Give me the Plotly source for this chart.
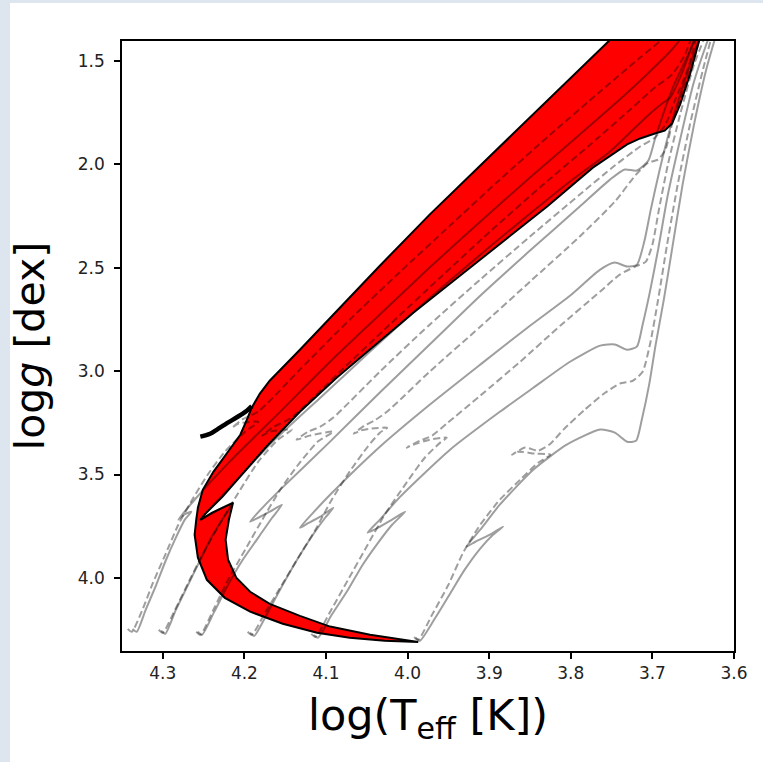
import plotly.graph_objects as go

# ---------------- data (log Teff, log g) ----------------
# red region outline (two isochrone boundaries joined)
red_logt = [3.987, 4.028, 4.071, 4.111, 4.153, 4.193, 4.224, 4.246, 4.257, 4.261, 4.259,
            4.257, 4.251, 4.238, 4.221, 4.205, 4.196, 4.191,
            4.181, 4.169, 4.132, 4.095, 4.034, 3.973, 3.911, 3.829, 3.752, 3.740,
            3.639, 3.643, 3.654, 3.666, 3.676, 3.685, 3.697, 3.715, 3.731, 3.773, 3.829,
            3.911, 3.993, 4.087, 4.132, 4.172, 4.205, 4.227, 4.248, 4.254,
            4.240, 4.226, 4.214,
            4.219, 4.223, 4.220, 4.210, 4.193, 4.169, 4.132, 4.095, 4.046, 3.987]
red_logg = [4.309, 4.304, 4.289, 4.265, 4.221, 4.163, 4.096, 4.009, 3.902, 3.791, 3.718,
            3.661, 3.574, 3.487, 3.395, 3.308, 3.226, 3.177,
            3.109, 3.047, 2.897, 2.742, 2.491, 2.244, 2.007, 1.698, 1.403, 1.354,
            1.354, 1.407, 1.567, 1.712, 1.804, 1.838, 1.852, 1.876, 1.905, 2.017, 2.205,
            2.462, 2.718, 3.032, 3.197, 3.361, 3.506, 3.608, 3.690, 3.719,
            3.685, 3.661, 3.637,
            3.719, 3.815, 3.912, 3.999, 4.067, 4.125, 4.183, 4.235, 4.274, 4.309]

# thick black arc left of the band
arc_logt = [4.254, 4.242, 4.234, 4.224, 4.214, 4.204, 4.197, 4.191]
arc_logg = [3.317, 3.303, 3.284, 3.259, 3.235, 3.211, 3.192, 3.170]

# evolutionary tracks, solid set
t1s_logt = [3.990, 3.985, 3.966, 3.948, 3.930, 3.911, 3.895, 3.883, 3.899, 3.917, 3.928, 3.911, 3.887,
            3.846, 3.805, 3.764, 3.746, 3.731, 3.720, 3.713, 3.704, 3.696, 3.686, 3.675, 3.663,
            3.649, 3.634, 3.620]
t1s_logg = [4.289, 4.304, 4.192, 4.076, 3.960, 3.858, 3.790, 3.752, 3.791, 3.825, 3.849, 3.767, 3.646,
            3.477, 3.356, 3.283, 3.298, 3.342, 3.337, 3.235, 3.066, 2.872, 2.655, 2.389, 2.099,
            1.809, 1.543, 1.349]
t2s_logt = [4.115, 4.110, 4.093, 4.073, 4.055, 4.036, 4.019, 4.003, 4.019, 4.036, 4.049, 4.034, 4.009,
            3.948, 3.887, 3.846, 3.801, 3.764, 3.746, 3.731, 3.719, 3.712, 3.703, 3.693, 3.681,
            3.666, 3.650, 3.634, 3.627]
t2s_logg = [4.275, 4.289, 4.178, 4.057, 3.936, 3.829, 3.743, 3.680, 3.718, 3.757, 3.781, 3.718, 3.607,
            3.380, 3.197, 3.081, 2.955, 2.877, 2.872, 2.897, 2.882, 2.776, 2.616, 2.413, 2.147,
            1.881, 1.615, 1.422, 1.349]
t3s_logt = [4.193, 4.188, 4.171, 4.153, 4.134, 4.116, 4.101, 4.091, 4.107, 4.123, 4.132, 4.117, 4.095,
            4.034, 3.973, 3.911, 3.850, 3.801, 3.764, 3.746, 3.731, 3.719, 3.710, 3.702, 3.691,
            3.677, 3.660, 3.645, 3.636]
t3s_logg = [4.265, 4.280, 4.164, 4.033, 3.902, 3.791, 3.709, 3.661, 3.704, 3.738, 3.757, 3.690, 3.598,
            3.366, 3.163, 2.969, 2.781, 2.636, 2.510, 2.476, 2.495, 2.486, 2.375, 2.220, 2.026,
            1.809, 1.591, 1.422, 1.349]
t4s_logt = [4.257, 4.252, 4.237, 4.220, 4.202, 4.183, 4.166, 4.154, 4.169, 4.183, 4.193, 4.178, 4.156,
            4.095, 4.034, 3.973, 3.911, 3.850, 3.789, 3.752, 3.734, 3.719, 3.705, 3.697, 3.687,
            3.675, 3.658, 3.642]
t4s_logg = [4.260, 4.275, 4.164, 4.033, 3.912, 3.805, 3.709, 3.646, 3.680, 3.709, 3.728, 3.661, 3.573,
            3.341, 3.104, 2.872, 2.636, 2.418, 2.205, 2.075, 2.026, 2.031, 1.983, 1.881, 1.760,
            1.630, 1.485, 1.349]
t5s_logt = [4.302, 4.297, 4.284, 4.269, 4.254, 4.240, 4.225, 4.214, 4.236, 4.254, 4.218, 4.169, 4.107,
            4.046, 3.985, 3.924, 3.862, 3.801, 3.752, 3.721, 3.700, 3.688, 3.678, 3.666, 3.654, 3.645]
t5s_logg = [4.255, 4.270, 4.154, 4.033, 3.912, 3.801, 3.704, 3.637, 3.680, 3.719, 3.564, 3.356, 3.129,
            2.906, 2.689, 2.481, 2.278, 2.084, 1.939, 1.823, 1.746, 1.707, 1.678, 1.581, 1.456, 1.349]
t6s_logt = [4.337, 4.332, 4.321, 4.308, 4.296, 4.284, 4.273, 4.265, 4.274, 4.281, 4.261, 4.218, 4.156,
            4.095, 4.034, 3.973, 3.911, 3.850, 3.789, 3.740, 3.703, 3.676, 3.656]
t6s_logg = [4.246, 4.260, 4.154, 4.033, 3.912, 3.805, 3.718, 3.680, 3.694, 3.718, 3.622, 3.438, 3.196,
            2.955, 2.727, 2.500, 2.278, 2.065, 1.857, 1.688, 1.552, 1.446, 1.349]

# evolutionary tracks, dashed set
t1d_logt = [3.992, 3.987, 3.970, 3.950, 3.932, 3.911, 3.887, 3.862, 3.840, 3.825, 3.844, 3.865, 3.872,
            3.856, 3.840, 3.825, 3.809, 3.783, 3.758, 3.740, 3.724, 3.712, 3.703, 3.693, 3.682,
            3.669, 3.654, 3.638, 3.625]
t1d_logg = [4.285, 4.299, 4.178, 4.033, 3.878, 3.743, 3.622, 3.525, 3.443, 3.404, 3.399, 3.390, 3.404,
            3.370, 3.385, 3.351, 3.283, 3.187, 3.105, 3.061, 3.047, 3.003, 2.872, 2.655, 2.389,
            2.099, 1.809, 1.543, 1.349]
t2d_logt = [4.118, 4.113, 4.095, 4.073, 4.051, 4.028, 4.003, 3.979, 3.960, 3.952, 3.973, 3.993, 4.001,
            3.985, 3.970, 3.952, 3.911, 3.862, 3.813, 3.764, 3.740, 3.721, 3.708, 3.700, 3.692,
            3.681, 3.666, 3.649, 3.632]
t2d_logg = [4.270, 4.285, 4.164, 4.009, 3.854, 3.694, 3.549, 3.419, 3.346, 3.322, 3.332, 3.356, 3.370,
            3.337, 3.312, 3.254, 3.119, 2.955, 2.781, 2.616, 2.534, 2.495, 2.471, 2.389, 2.220,
            2.002, 1.760, 1.519, 1.349]
t3d_logt = [4.196, 4.191, 4.174, 4.154, 4.134, 4.113, 4.093, 4.071, 4.049, 4.034, 4.025, 4.046, 4.058,
            4.066, 4.053, 4.041, 4.025, 3.973, 3.911, 3.850, 3.789, 3.746, 3.721, 3.705, 3.693,
            3.684, 3.676, 3.664, 3.650, 3.639]
t3d_logg = [4.260, 4.275, 4.164, 4.033, 3.902, 3.767, 3.622, 3.486, 3.366, 3.298, 3.274, 3.279, 3.288,
            3.303, 3.264, 3.240, 3.196, 3.003, 2.786, 2.568, 2.350, 2.181, 2.055, 1.993, 1.978,
            1.930, 1.809, 1.664, 1.504, 1.349]
t4d_logt = [4.259, 4.254, 4.238, 4.220, 4.199, 4.178, 4.156, 4.134, 4.110, 4.091, 4.120, 4.136, 4.122,
            4.107, 4.091, 4.034, 3.973, 3.911, 3.850, 3.789, 3.746, 3.715, 3.697, 3.684, 3.672,
            3.656, 3.644]
t4d_logg = [4.260, 4.275, 4.154, 4.009, 3.863, 3.718, 3.573, 3.452, 3.341, 3.293, 3.312, 3.332, 3.293,
            3.269, 3.225, 3.003, 2.776, 2.558, 2.350, 2.147, 2.007, 1.915, 1.872, 1.809, 1.688,
            1.533, 1.349]
t5d_logt = [4.305, 4.300, 4.285, 4.267, 4.248, 4.227, 4.205, 4.183, 4.159, 4.142, 4.169, 4.178, 4.166,
            4.142, 4.083, 4.022, 3.960, 3.899, 3.838, 3.776, 3.727, 3.697, 3.676, 3.660, 3.649]
t5d_logg = [4.250, 4.265, 4.154, 4.009, 3.863, 3.718, 3.573, 3.438, 3.332, 3.283, 3.293, 3.312, 3.274,
            3.225, 3.003, 2.776, 2.548, 2.326, 2.113, 1.905, 1.736, 1.630, 1.567, 1.470, 1.349]
t6d_logt = [4.343, 4.338, 4.325, 4.312, 4.297, 4.281, 4.264, 4.245, 4.224, 4.199, 4.183, 4.208, 4.215,
            4.203, 4.183, 4.132, 4.071, 4.009, 3.948, 3.887, 3.825, 3.764, 3.715, 3.685, 3.672]
t6d_logg = [4.246, 4.260, 4.154, 4.023, 3.888, 3.743, 3.622, 3.501, 3.390, 3.293, 3.245, 3.255, 3.274,
            3.235, 3.196, 2.993, 2.752, 2.520, 2.297, 2.075, 1.857, 1.649, 1.485, 1.388, 1.349]

x_ticks = [4.3, 4.2, 4.1, 4.0, 3.9, 3.8, 3.7, 3.6]
x_labels = ["4.3", "4.2", "4.1", "4.0", "3.9", "3.8", "3.7", "3.6"]
y_ticks = [1.5, 2.0, 2.5, 3.0, 3.5, 4.0]
y_labels = ["1.5", "2.0", "2.5", "3.0", "3.5", "4.0"]

# ---------------- figure ----------------
fig = go.Figure()

fig.add_trace(go.Scatter(x=red_logt, y=red_logg, mode="lines", fill="toself",
                         fillcolor="#ff0000", line=dict(width=0, color="#ff0000"),
                         hoverinfo="skip", showlegend=False))

track_col = "rgba(0,0,0,0.38)"
solid_tracks = [(t1s_logt, t1s_logg), (t2s_logt, t2s_logg), (t3s_logt, t3s_logg),
                (t4s_logt, t4s_logg), (t5s_logt, t5s_logg), (t6s_logt, t6s_logg)]
dashed_tracks = [(t1d_logt, t1d_logg), (t2d_logt, t2d_logg), (t3d_logt, t3d_logg),
                 (t4d_logt, t4d_logg), (t5d_logt, t5d_logg), (t6d_logt, t6d_logg)]
for xs, ys in solid_tracks:
    fig.add_trace(go.Scatter(x=xs, y=ys, mode="lines",
                             line=dict(color=track_col, width=2, shape="spline", smoothing=0.6),
                             hoverinfo="skip", showlegend=False))
for xs, ys in dashed_tracks:
    fig.add_trace(go.Scatter(x=xs, y=ys, mode="lines",
                             line=dict(color=track_col, width=2, dash="7px,3.5px",
                                       shape="spline", smoothing=0.6),
                             hoverinfo="skip", showlegend=False))

fig.add_trace(go.Scatter(x=red_logt, y=red_logg, mode="lines",
                         line=dict(color="black", width=2),
                         hoverinfo="skip", showlegend=False))
fig.add_trace(go.Scatter(x=arc_logt, y=arc_logg, mode="lines",
                         line=dict(color="black", width=4.5, shape="spline"),
                         hoverinfo="skip", showlegend=False))

axis_common = dict(showline=True, linecolor="black", linewidth=1.5, mirror=True,
                   ticks="outside", ticklen=6, tickwidth=1.5, tickcolor="black",
                   showgrid=False, zeroline=False,
                   tickfont=dict(family="DejaVu Sans", size=17, color="#222222"))

fig.update_layout(
    width=763, height=762,
    margin=dict(l=122, r=29, t=41, b=111),
    paper_bgcolor="white", plot_bgcolor="white",
    xaxis=dict(range=[4.35, 3.6], tickvals=x_ticks, ticktext=x_labels,
               title=dict(text="log(T<sub>eff</sub> [K])",
                          font=dict(family="DejaVu Sans", size=43, color="black"), standoff=18),
               **axis_common),
    yaxis=dict(range=[4.353, 1.405], tickvals=y_ticks, ticktext=y_labels,
               ticklabelstandoff=6,
               title=dict(text="log<i>g</i> [dex]",
                          font=dict(family="DejaVu Sans", size=41, color="black"), standoff=20),
               **axis_common),
    shapes=[
        dict(type="rect", xref="paper", yref="paper", x0=-0.2, x1=-0.183, y0=-0.19, y1=1.07,
             fillcolor="#dde5ee", line=dict(width=0), layer="below"),
        dict(type="rect", xref="paper", yref="paper", x0=-0.2, x1=1.05, y0=1.0623, y1=1.07,
             fillcolor="#dde5ee", line=dict(width=0), layer="below"),
    ],
)

fig.write_html("out.html", config={"displayModeBar": False},
               post_script="document.body.style.margin='0px';document.body.style.overflow='hidden';")
